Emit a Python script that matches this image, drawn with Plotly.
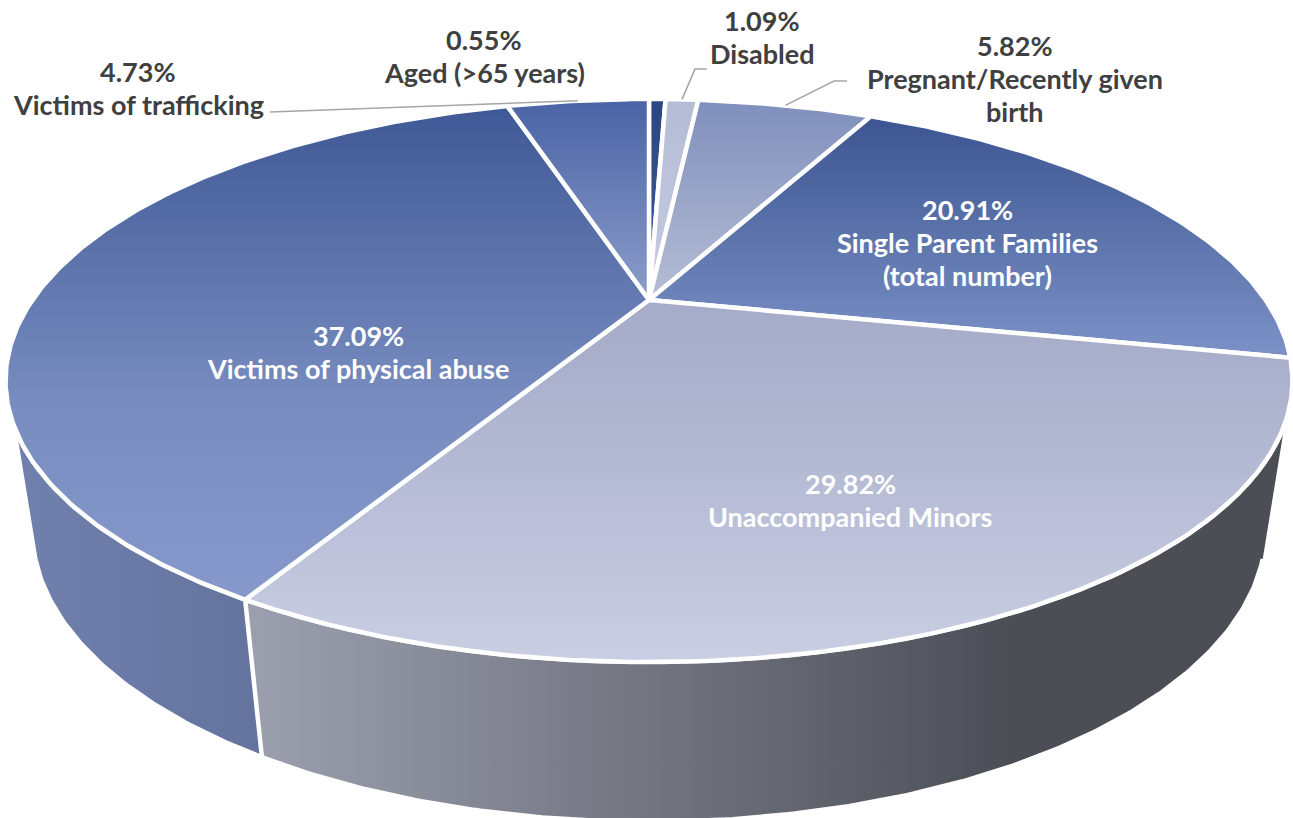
import numpy as np
import plotly.graph_objects as go

# ---- data ----
categories = ["Aged (>65 years)", "Disabled", "Pregnant/Recently given<br>birth",
              "Single Parent Families<br>(total number)", "Unaccompanied Minors",
              "Victims of physical abuse", "Victims of trafficking"]
values = [0.55, 1.09, 5.82, 20.91, 29.82, 37.09, 4.73]
percent_labels = ["0.55%", "1.09%", "5.82%", "20.91%", "29.82%", "37.09%", "4.73%"]

# ---- styles ----
slice_gradients = [
    [[0, "#2b4681"], [1, "#3f5c9c"]],
    [[0, "#b4bcd6"], [1, "#c6cce0"]],
    [[0, "#7f8fbc"], [1, "#b6bdd5"]],
    [[0, "#3c5591"], [1, "#7c92c7"]],
    [[0, "#a5acc9"], [0.15, "#a9afcb"], [1, "#c9cee2"]],
    [[0, "#3f5996"], [0.6, "#788cbf"], [1, "#8799cb"]],
    [[0, "#4963a5"], [1, "#8d9dca"]],
]
label_pos = [(484, 39), (762, 20), (1015, 45), (967, 209), (850, 483), (358, 335), (138, 71)]
label_color = ["#404040", "#404040", "#404040", "white", "white", "white", "#404040"]
leaders = {1: [(695, 69), (707, 69)], 2: [(834, 81), (847, 81)], 6: [(270, 112)]}
LINE_STEP = 33

# ---- perspective geometry of the disc ----
CX, CY, A, B, K = 649.0, 300.0, 616.6, 258.5, 0.286
LOW_Y, LOW_A, LOW_B = 446.5, 591.0, 268.0


def rim(theta_deg, y0=CY, a=A, b=B):
    t = np.radians(theta_deg)
    u, v = np.sin(t), -np.cos(t)
    w = 1 - K * v
    return CX + a * u / w, y0 + b * v / w


def lower(theta_deg):
    return rim(theta_deg, LOW_Y, LOW_A, LOW_B)


total = sum(values)
edges = np.concatenate([[0], np.cumsum(values)]) / total * 360
fig = go.Figure()


def poly(x, y, kind, scale, start, stop, width=4.5):
    fig.add_trace(go.Scatter(
        x=list(x), y=list(y), mode="lines", fill="toself",
        line=dict(color="white", width=width), hoverinfo="skip", showlegend=False,
        fillgradient=dict(type=kind, start=start, stop=stop, colorscale=scale)))


# side walls
seam = edges[5]
ux, uy = rim(np.linspace(seam, 245, 80))
lx, ly = lower(np.linspace(248, seam, 80))
poly(np.r_[ux, lx], np.r_[uy, ly], "horizontal", [[0, "#7181ad"], [1, "#64739e"]], 10, 263)
ux, uy = rim(np.linspace(115, seam, 200))
lx, ly = lower(np.linspace(seam, 112, 200))
poly(np.r_[ux, lx], np.r_[uy, ly], "horizontal", [[0, "#9b9ead"], [1, "#4c4e56"]], 263, 1010)

# top slices
for i in range(len(values)):
    th = np.linspace(edges[i], edges[i + 1], max(3, int((edges[i + 1] - edges[i]) * 2)))
    x, y = rim(th)
    xs = np.r_[CX, x, CX]
    ys = np.r_[CY, y, CY]
    poly(xs, ys, "vertical", slice_gradients[i], float(ys.min()), float(ys.max()))

# leader lines
for i, pts in leaders.items():
    mx, my = rim((edges[i] + edges[i + 1]) / 2)
    fig.add_trace(go.Scatter(x=[mx] + [p[0] for p in pts], y=[my] + [p[1] for p in pts],
                             mode="lines", line=dict(color="#a6a6a6", width=1.6),
                             hoverinfo="skip", showlegend=False))

# labels
for i, cat in enumerate(categories):
    lines = [percent_labels[i]] + cat.split("<br>")
    for j, line in enumerate(lines):
        fig.add_annotation(x=label_pos[i][0], y=label_pos[i][1] + j * LINE_STEP, text=f"<b>{line}</b>",
                           showarrow=False, align="center", xanchor="center", yanchor="middle",
                           font=dict(family="Lato", size=27, color=label_color[i]))

fig.update_layout(width=1293, height=818, margin=dict(l=0, r=0, t=0, b=0),
                  paper_bgcolor="white", plot_bgcolor="white",
                  xaxis=dict(range=[0, 1293], visible=False, fixedrange=True),
                  yaxis=dict(range=[818, 0], visible=False, fixedrange=True))
fig.write_html("out.html", post_script="document.body.style.margin='0';document.body.style.overflow='hidden';",
               config={"displayModeBar": False})
